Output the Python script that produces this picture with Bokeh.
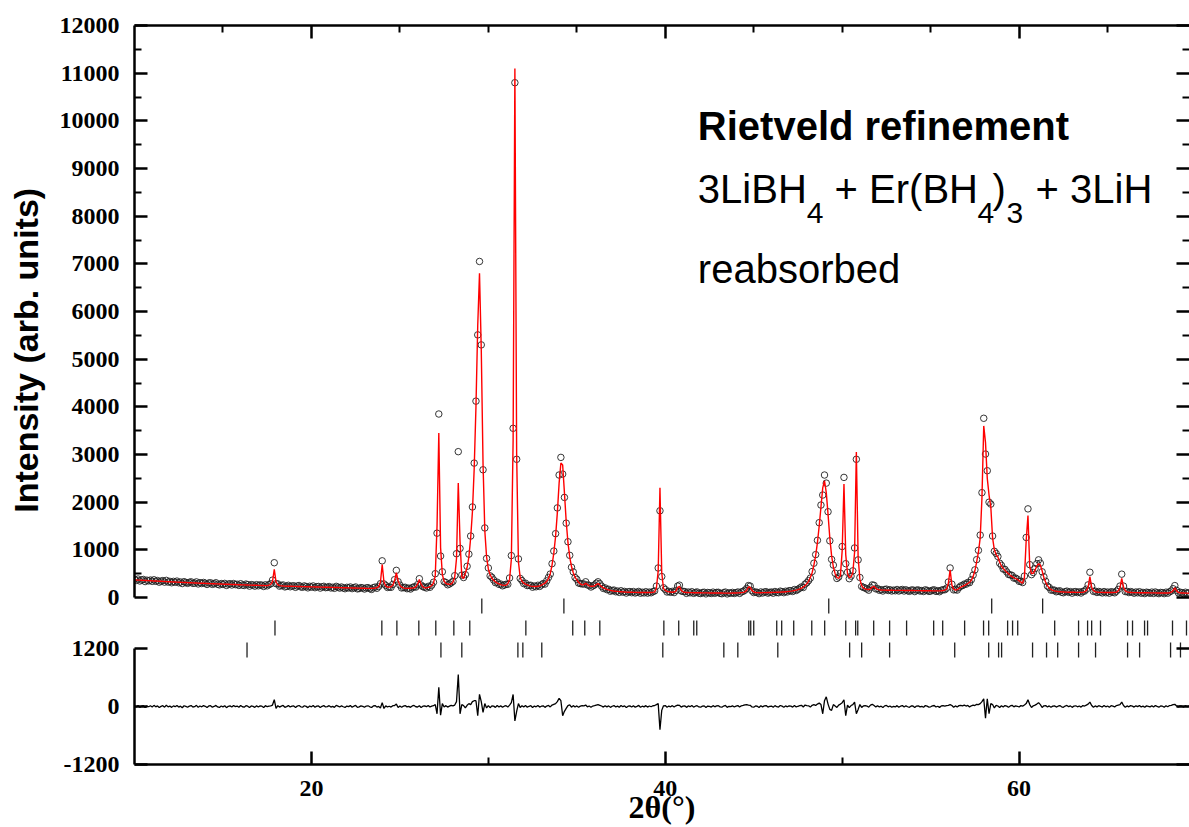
import numpy as np
from bokeh.plotting import figure
from bokeh.models import Range1d, LinearAxis, FixedTicker, Label, ColumnDataSource
from bokeh.layouts import column
from bokeh.embed import file_html
from bokeh.resources import INLINE

# ---------------- data ----------------
two_theta_start = 10.0
two_theta_step = 0.1

# calculated profile (red line), one row per degree (x.0 ... x.9)
calc_counts = [
    370, 368, 366, 364, 362, 360, 358, 356, 354, 352,
    350, 348, 346, 344, 342, 340, 338, 336, 334, 332,
    330, 328, 326, 325, 323, 321, 319, 318, 316, 314,
    312, 311, 309, 307, 306, 304, 302, 301, 299, 298,
    296, 295, 293, 292, 290, 289, 287, 286, 284, 283,
    281, 280, 278, 277, 276, 274, 273, 272, 270, 269,
    268, 266, 265, 264, 262, 261, 260, 259, 257, 256,
    255, 254, 253, 252, 250, 249, 260, 274, 335, 590,
    330, 268, 250, 244, 241, 239, 238, 237, 236, 235,
    234, 233, 232, 231, 230, 229, 228, 227, 226, 225,
    224, 223, 222, 221, 220, 219, 218, 217, 216, 215,
    214, 213, 212, 211, 210, 209, 208, 207, 206, 205,
    204, 203, 202, 201, 200, 199, 198, 197, 196, 195,
    194, 193, 192, 192, 191, 195, 199, 207, 230, 320,
    690, 325, 240, 220, 217, 226, 257, 355, 520, 352,
    250, 216, 202, 196, 193, 194, 195, 197, 204, 224,
    280, 380, 280, 222, 203, 204, 212, 226, 252, 304,
    460, 1500, 3450, 1050, 480, 342, 296, 280, 277, 284,
    324, 428, 819, 2400, 1180, 430, 400, 510, 630, 850,
    1250, 1800, 2700, 4000, 5700, 6800, 5200, 2800, 1400, 850,
    600, 480, 410, 360, 330, 300, 285, 270, 260, 255,
    260, 290, 380, 800, 3300, 11100, 3000, 750, 420, 340,
    300, 280, 265, 250, 240, 235, 232, 232, 236, 245,
    260, 280, 300, 340, 400, 500, 680, 930, 1280, 1780,
    2400, 2820, 2780, 2200, 1600, 1150, 850, 650, 520, 430,
    370, 320, 285, 265, 270, 300, 270, 245, 235, 235,
    245, 270, 290, 265, 228, 203, 186, 172, 160, 150,
    143, 137, 132, 128, 124, 121, 118, 116, 114, 112,
    111, 110, 109, 108, 107, 106, 106, 105, 105, 104,
    104, 104, 105, 108, 118, 200, 560, 2300, 520, 190,
    150, 130, 120, 115, 112, 115, 135, 210, 235, 150,
    120, 110, 106, 104, 103, 102, 101, 100, 100, 99,
    99, 98, 98, 97, 97, 96, 96, 95, 95, 95,
    94, 94, 94, 93, 93, 93, 93, 93, 94, 95,
    96, 97, 99, 102, 108, 118, 150, 220, 215, 150,
    118, 106, 102, 101, 101, 102, 102, 103, 104, 105,
    106, 107, 108, 110, 111, 113, 115, 117, 120, 123,
    130, 134, 140, 147, 156, 167, 180, 198, 220, 250,
    290, 340, 420, 520, 680, 880, 1150, 1500, 1900, 2300,
    2450, 2200, 1750, 1250, 880, 640, 500, 420, 400, 460,
    990, 2380, 900, 500, 420, 430, 520, 950, 3050, 850,
    380, 250, 200, 180, 170, 168, 180, 220, 235, 190,
    170, 162, 158, 156, 155, 154, 153, 152, 152, 151,
    151, 150, 150, 149, 149, 148, 148, 147, 147, 146,
    146, 145, 145, 144, 144, 143, 143, 142, 142, 141,
    141, 140, 140, 139, 139, 140, 142, 146, 155, 175,
    300, 580, 260, 175, 158, 165, 190, 218, 236, 252,
    270, 295, 320, 360, 440, 560, 750, 950, 1250, 2100,
    3600, 3250, 2500, 2150, 1900, 1250, 1000, 900, 850, 740,
    660, 610, 570, 530, 500, 465, 440, 415, 395, 380,
    350, 320, 305, 420, 1200, 1720, 650, 500, 510, 575,
    660, 710, 680, 560, 420, 320, 250, 200, 170, 150,
    140, 132, 126, 122, 118, 116, 114, 113, 112, 111,
    110, 110, 109, 109, 108, 108, 109, 125, 144, 215,
    440, 215, 144, 122, 114, 110, 108, 107, 106, 106,
    105, 105, 105, 106, 108, 112, 140, 200, 400, 220,
    140, 118, 110, 106, 104, 103, 102, 102, 101, 101,
    100, 100, 99, 99, 98, 98, 97, 97, 96, 96,
    96, 95, 95, 95, 96, 100, 112, 145, 205, 140,
    108, 98, 95, 94, 93, 92, 91,
]

# difference curve (observed - calculated)
diff_counts = [
    14, -9, 22, -17, 6, 19, -23, 8, -5, 15,
    -11, 24, -6, 12, -20, 3, 17, -13, 26, -8,
    9, -18, 13, -4, 22, -12, 7, -25, 16, 2,
    -15, 8, 20, -10, -3, 24, -17, 11, -6, 18,
    5, -21, 12, 17, -14, 1, 23, -9, -19, 10,
    -7, 16, -24, 4, 13, -11, 20, -2, 9, -16,
    21, -5, -13, 18, 7, -22, 11, 3, -18, 14,
    -9, 12, 6, -20, 17, -4, 10, 15, 30, 140,
    -40, 18, -12, 9, 22, -16, -3, 19, -10, 6,
    13, -19, 8, 21, -7, -14, 16, 2, -23, 11,
    -6, 20, -15, 7, 12, -21, 5, 18, -9, -2,
    17, -12, 3, -18, 24, 8, -10, 14, -5, -20,
    10, -3, 19, -14, 6, 22, -17, -8, 13, 4,
    -16, 9, 15, -6, -21, 11, 20, -13, 2, -30,
    80, -40, 14, -9, 5, -12, 18, 20, 50, -20,
    11, -15, 7, 19, -8, 3, -17, 12, 21, -5,
    -10, 15, -20, 6, 13, -4, 22, -11, 8, 17,
    40, -150, 400, -180, 60, -10, 18, -12, 7, 25,
    15, 30, 100, 660, -150, 40, 20, -30, 25, 60,
    40, 100, 120, 120, -190, 250, 100, -120, 60, -30,
    20, -25, 14, 8, -18, 22, -9, 13, -14, 6,
    18, -12, 30, 80, 250, -300, -100, 60, -20, 15,
    -8, 20, -14, 5, 17, -19, 9, -6, 21, -12,
    6, 14, -18, 10, 22, -8, 30, 45, 60, 100,
    170, 120, -190, -100, -40, 20, 35, -15, 18, -10,
    12, -16, 8, 20, 14, 30, -6, 11, -14, 9,
    18, 30, 40, 25, 10, -12, 16, -7, 13, -18,
    5, 19, -11, 8, -16, 21, -4, 12, -20, 7,
    14, -9, 17, -13, 3, 22, -15, 6, -8, 18,
    -12, 10, -5, 16, 20, 40, 60, -480, -80, 15,
    20, -14, 9, -6, 18, -11, 14, 30, 25, -12,
    8, 15, -18, 11, -4, 20, -13, 6, 17, -9,
    -15, 7, 13, -20, 9, 4, -11, 18, -6, 12,
    16, -8, -14, 10, 21, -17, 5, -3, 14, -10,
    6, 19, -12, 15, 22, 35, 40, 30, 25, -8,
    -14, 11, 5, -19, 16, -7, 13, 20, -12, 3,
    9, -16, 18, -4, -11, 21, 7, -15, 12, -6,
    14, 8, -13, 20, -9, 5, 17, 25, -10, 30,
    20, 15, -12, 25, 40, 20, 50, 70, 40, -150,
    120, 200, 50, -60, -80, 40, 10, -20, 30, 50,
    80, 140, -190, 30, -25, 20, 40, 90, -150, -60,
    40, -18, 12, 20, 9, -14, 30, 45, 20, -8,
    16, -10, 7, -19, 13, 22, -6, 11, -15, 4,
    -9, 18, -13, 6, 20, -11, 14, -5, -17, 10,
    12, -20, 9, 15, -8, 3, -16, 19, 7, -12,
    -6, 14, 21, -10, 5, -18, 11, 17, 8, 20,
    25, 40, 20, -15, 12, -9, 18, 25, 14, 30,
    10, 22, -8, 15, 30, 20, 45, 40, 60, 100,
    160, -240, 160, -150, 60, 40, -30, 25, 10, -20,
    15, -12, 20, 8, -16, 11, 24, -7, 13, 5,
    -10, 18, 9, 30, 60, 140, 40, -20, 15, 30,
    50, 80, 40, -20, 15, 20, -9, 12, -15, 8,
    14, -11, 6, 19, -7, -16, 10, 21, -4, 13,
    -18, 9, 15, -6, 11, -13, 20, 10, 30, 50,
    90, 20, -15, 12, -8, 17, 5, -11, 19, -6,
    10, -14, 16, 7, -9, 20, 30, 40, 90, 20,
    -15, 12, -6, 18, 9, -12, 14, -3, 21, -10,
    7, -17, 13, 4, -8, 16, -11, 19, 2, -14,
    11, 6, -13, 17, -5, 20, 25, 40, 45, 10,
    -9, 14, 6, -12, 18, -4, 10,
]

# Bragg reflection positions (2theta) of the three phases
phase_a_peaks = [29.63, 34.27, 49.24, 58.45, 61.33]
phase_b_peaks = [17.94, 23.98, 24.83, 26.07, 27.03, 28.05, 28.95, 32.12, 34.77,
                 35.45, 36.30, 39.92, 40.76, 41.61, 41.78, 44.72, 44.83, 45.00,
                 46.30, 46.58, 47.26, 48.28, 49.01, 50.20, 50.76, 50.88, 51.78,
                 52.68, 53.64, 55.17, 55.68, 56.92, 57.99, 58.28, 59.35, 59.63,
                 59.92, 62.01, 63.36, 63.87, 64.10, 64.60, 66.13, 66.41, 67.09,
                 67.26, 68.67, 69.46]
phase_c_peaks = [16.36, 27.32, 28.50, 31.67, 31.95, 33.02, 39.86, 43.31, 44.10,
                 46.36, 50.42, 51.10, 52.68, 56.36, 58.28, 58.84, 59.01, 60.76,
                 61.55, 62.18, 63.36, 64.32, 66.13, 66.81, 68.56, 69.12]

x_major_ticks = [20, 40, 60]
x_minor_top = [15, 25, 30, 35, 45, 50, 55, 65]
x_minor_bottom = [30, 50]
y_major_ticks = list(range(0, 13000, 1000))
y_minor_ticks = list(range(500, 12000, 1000))
diff_ticks = [-1200, 0, 1200]

# ---------------- build ----------------
n = len(calc_counts)
two_theta = np.round(two_theta_start + two_theta_step * np.arange(n), 2)
calc = np.array(calc_counts, dtype=float)
diff = np.array(diff_counts, dtype=float)
obs = calc + diff

src = ColumnDataSource(dict(x=two_theta, obs=obs, calc=calc, diff=diff))

xr = Range1d(10, 69.63)

SERIF = "Liberation Serif"
SANS = "Liberation Sans"
AXW = 2.5

def style_axis(ax, labels=True):
    ax.axis_line_width = AXW
    ax.axis_line_color = "black"
    ax.major_tick_in = 13
    ax.major_tick_out = 0
    ax.minor_tick_in = 7
    ax.minor_tick_out = 0
    ax.major_tick_line_width = AXW
    ax.minor_tick_line_width = 2
    ax.major_tick_line_color = "black"
    ax.minor_tick_line_color = "black"
    if labels:
        ax.major_label_text_font = SERIF
        ax.major_label_text_font_style = "bold"
        ax.major_label_text_font_size = "24px"
        ax.major_label_text_color = "black"
    else:
        # tick marks only: labels are not drawn at all
        ax.major_label_text_color = None
        ax.major_label_text_font_size = "1px"
        ax.major_label_standoff = 0

# ---- top panel ----
p = figure(width=1189, height=618, x_range=xr, y_range=Range1d(-440, 12000),
           x_axis_type=None, y_axis_type=None, output_backend="svg",
           toolbar_location=None, min_border_left=134, min_border_right=0,
           min_border_top=25, min_border_bottom=0, outline_line_color=None)

left = LinearAxis(ticker=FixedTicker(ticks=y_major_ticks, minor_ticks=y_minor_ticks),
                  bounds=(0, 12000))
style_axis(left)
left.major_label_standoff = 15
# trailing no-break spaces shift the title down to where the original places it
left.axis_label = "Intensity (arb. units)" + "\u00a0" * 6
left.axis_label_text_font = SANS
left.axis_label_text_font_style = "bold"
left.axis_label_text_font_size = "34px"
left.axis_label_text_color = "black"
left.axis_label_standoff = 12
p.add_layout(left, "left")

top = LinearAxis(ticker=FixedTicker(ticks=x_major_ticks, minor_ticks=x_minor_top))
style_axis(top, labels=False)
p.add_layout(top, "above")

right = LinearAxis(ticker=FixedTicker(ticks=y_major_ticks, minor_ticks=y_minor_ticks),
                   bounds=(0, 12000))
style_axis(right, labels=False)
right.axis_line_color = None
p.add_layout(right, "right")

p.scatter("x", "obs", source=src, marker="circle", size=6.5, fill_color=None,
          line_color="#202020", line_width=0.9)
p.line("x", "calc", source=src, line_color="#ff0000", line_width=1.4)

pa = ColumnDataSource(dict(x=phase_a_peaks))
p.segment(x0="x", x1="x", y0=-21, y1=-336, source=pa, line_color="#222222", line_width=1.3)

# annotation block
p.add_layout(Label(x=41.84, y=9882, text="Rietveld refinement", text_font=SANS,
                   text_font_style="bold", text_font_size="40px",
                   text_baseline="middle", text_color="black"))
main_parts = [("3LiBH", 41.84), ("+ Er(BH", 49.57), (")", 58.50), ("+ 3LiH", 60.93)]
sub_parts = [("4", 47.99), ("4", 57.65), ("3", 59.29)]
for t, xx in main_parts:
    p.add_layout(Label(x=xx, y=8560, text=t, text_font=SANS, text_font_size="40px",
                       text_baseline="middle", text_color="black"))
for t, xx in sub_parts:
    p.add_layout(Label(x=xx, y=8077, text=t, text_font=SANS, text_font_size="30px",
                       text_baseline="middle", text_color="black"))
p.add_layout(Label(x=41.84, y=6902, text="reabsorbed", text_font=SANS,
                   text_font_size="40px", text_baseline="middle", text_color="black"))

# ---- bottom panel (reflection ticks + difference) ----
q = figure(width=1189, height=209, x_range=xr, y_range=Range1d(-1200, 1821),
           x_axis_type=None, y_axis_type=None, output_backend="svg",
           toolbar_location=None, min_border_left=134, min_border_right=0,
           min_border_top=0, min_border_bottom=0, outline_line_color=None)

qleft = LinearAxis(ticker=FixedTicker(ticks=diff_ticks, minor_ticks=[]), bounds=(-1200, 1200))
style_axis(qleft)
qleft.major_label_standoff = 15
qleft.major_label_overrides = {-1200: "-1200", 0: "0", 1200: "1200"}
q.add_layout(qleft, "left")

qright = LinearAxis(ticker=FixedTicker(ticks=diff_ticks, minor_ticks=[]), bounds=(-1200, 1200))
style_axis(qright, labels=False)
qright.axis_line_color = None
q.add_layout(qright, "right")

bottom = LinearAxis(ticker=FixedTicker(ticks=x_major_ticks, minor_ticks=x_minor_bottom))
style_axis(bottom)
bottom.major_label_standoff = 16
bottom.axis_label = "2\u03b8(\u00b0)"
bottom.axis_label_text_font = SERIF
bottom.axis_label_text_font_style = "bold"
bottom.axis_label_text_font_size = "32px"
bottom.axis_label_text_color = "black"
bottom.axis_label_standoff = -10
q.add_layout(bottom, "below")

pb = ColumnDataSource(dict(x=phase_b_peaks))
pc = ColumnDataSource(dict(x=phase_c_peaks))
q.segment(x0="x", x1="x", y0=1779, y1=1469, source=pb, line_color="#222222", line_width=1.3)
q.segment(x0="x", x1="x", y0=1324, y1=1014, source=pc, line_color="#222222", line_width=1.3)
q.line("x", "diff", source=src, line_color="black", line_width=1.3)

layout = column(p, q, spacing=0)
open("out.html", "w").write(file_html(layout, INLINE))
